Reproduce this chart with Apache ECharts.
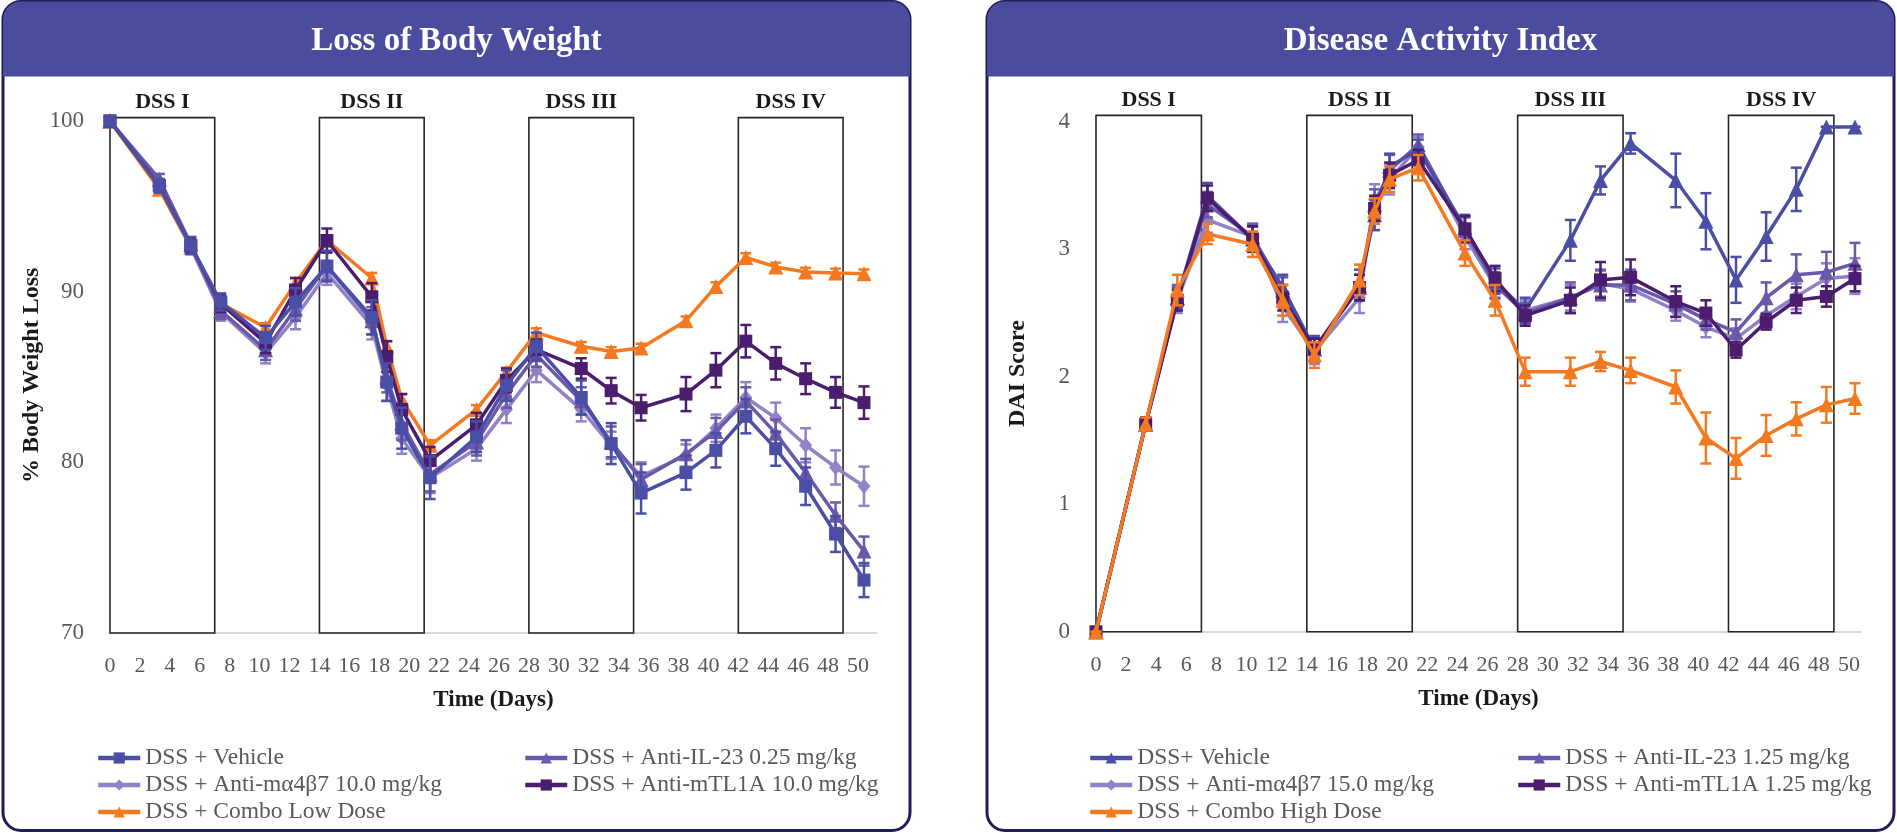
<!DOCTYPE html>
<html>
<head>
<meta charset="utf-8">
<title>Loss of Body Weight / Disease Activity Index</title>
<script src="https://cdn.jsdelivr.net/npm/echarts@6/dist/echarts.min.js"></script>
<style>
  html, body { margin: 0; padding: 0; background: #fff; }
  #chart { width: 1897px; height: 833px; }
</style>
</head>
<body>
<div id="chart"></div>
<script>
// 取样日 (days)
var days = [0, 3.3, 5.4, 7.4, 10.4, 12.4, 14.5, 17.5, 18.5, 19.5, 21.4, 24.5,
            26.5, 28.5, 31.5, 33.5, 35.5, 38.5, 40.5, 42.5, 44.5, 46.5, 48.5, 50.4];
var xTicks = [0, 2, 4, 6, 8, 10, 12, 14, 16, 18, 20, 22, 24, 26, 28, 30, 32, 34, 36, 38, 40, 42, 44, 46, 48, 50];
var dssNames = ['DSS I', 'DSS II', 'DSS III', 'DSS IV'];
var dssStart = [0, 14, 28, 42];
var dssEnd = [7, 21, 35, 49];

// Loss of Body Weight (%)
var bwNames = ['DSS + Vehicle', 'DSS + Anti-IL-23 0.25 mg/kg', 'DSS + Anti-mα4β7 10.0 mg/kg',
               'DSS + Anti-mTL1A 10.0 mg/kg', 'DSS + Combo Low Dose'];
var bwVehicle = [100, 96.2, 92.7, 89.4, 87.3, 89.4, 91.5, 88.5, 84.7, 82.0, 79.1, 81.5, 84.5, 86.8, 83.8, 81.1, 78.2, 79.4, 80.7, 82.7, 80.8, 78.6, 75.8, 73.1];
var bwIL23 = [100, 96.6, 92.8, 88.9, 86.6, 89.0, 91.5, 88.3, 85.0, 82.3, 79.3, 81.2, 84.0, 86.3, 83.6, 81.2, 79.0, 80.5, 81.8, 83.6, 81.7, 79.4, 76.9, 74.8];
var bwA4b7 = [100, 96.3, 92.6, 88.8, 86.4, 88.5, 91.1, 88.0, 84.5, 81.4, 79.1, 80.8, 83.1, 85.4, 83.1, 81.0, 79.2, 80.4, 82.0, 83.8, 82.6, 81.0, 79.7, 78.6];
var bwTL1A = [100, 96.2, 92.7, 89.3, 87.0, 90.1, 93.0, 89.7, 86.2, 83.1, 80.1, 82.2, 84.8, 86.6, 85.5, 84.2, 83.2, 84.0, 85.4, 87.1, 85.8, 84.9, 84.1, 83.5];
var bwCombo = [100, 96.0, 92.6, 89.3, 87.9, 90.5, 93.0, 90.8, 86.8, 83.7, 81.0, 83.1, 85.3, 87.6, 86.8, 86.5, 86.7, 88.3, 90.3, 92.0, 91.45, 91.15, 91.1, 91.05];
// 误差 (SEM)
var bwVehicleErr = [0.2, 0.4, 0.5, 0.5, 0.7, 0.8, 0.9, 1.0, 1.1, 1.2, 1.25, 0.9, 0.9, 0.8, 1.0, 1.2, 1.2, 1.0, 1.0, 1.0, 1.0, 1.1, 1.05, 1.0];
var bwIL23Err = [0.2, 0.3, 0.4, 0.5, 0.6, 0.7, 0.8, 0.8, 0.9, 1.0, 1.0, 0.8, 0.8, 0.7, 0.8, 0.9, 0.9, 0.8, 0.8, 0.8, 0.8, 0.8, 0.75, 0.85];
var bwA4b7Err = [0.2, 0.3, 0.4, 0.5, 0.6, 0.7, 0.7, 0.8, 0.9, 0.9, 0.9, 0.7, 0.8, 0.7, 0.7, 0.8, 0.8, 0.65, 0.8, 0.9, 0.9, 1.0, 1.0, 1.15];
var bwTL1AErr = [0.2, 0.3, 0.4, 0.5, 0.6, 0.7, 0.7, 0.8, 0.9, 0.9, 0.8, 0.7, 0.7, 0.6, 0.6, 0.75, 0.75, 1.0, 1.0, 0.95, 0.95, 0.9, 0.9, 0.95];
var bwComboErr = [0.1, 0.2, 0.2, 0.2, 0.25, 0.3, 0.3, 0.3, 0.3, 0.3, 0.3, 0.25, 0.25, 0.25, 0.25, 0.25, 0.25, 0.25, 0.25, 0.25, 0.25, 0.25, 0.25, 0.25];
var bwTicks = [70, 80, 90, 100];

// Disease Activity Index
var daiNames = ['DSS+ Vehicle', 'DSS + Anti-IL-23 1.25 mg/kg', 'DSS + Anti-mα4β7 15.0 mg/kg',
                'DSS + Anti-mTL1A 1.25 mg/kg', 'DSS + Combo High Dose'];
var daiVehicle = [0, 1.63, 2.62, 3.42, 3.08, 2.70, 2.22, 2.72, 3.27, 3.65, 3.78, 3.17, 2.75, 2.52, 3.07, 3.54, 3.83, 3.54, 3.22, 2.76, 3.10, 3.47, 3.96, 3.96];
var daiIL23 = [0, 1.63, 2.62, 3.35, 3.10, 2.68, 2.22, 2.70, 3.35, 3.62, 3.82, 3.15, 2.72, 2.50, 2.62, 2.72, 2.72, 2.57, 2.45, 2.35, 2.62, 2.80, 2.82, 2.89];
var daiA4b7 = [0, 1.63, 2.60, 3.23, 3.10, 2.55, 2.20, 2.62, 3.39, 3.55, 3.80, 3.10, 2.71, 2.52, 2.62, 2.73, 2.69, 2.52, 2.39, 2.30, 2.48, 2.63, 2.77, 2.79];
var daiTL1A = [0, 1.63, 2.60, 3.40, 3.08, 2.62, 2.22, 2.70, 3.32, 3.58, 3.70, 3.16, 2.77, 2.48, 2.60, 2.76, 2.78, 2.59, 2.50, 2.21, 2.43, 2.60, 2.63, 2.77];
var daiCombo = [0, 1.63, 2.68, 3.12, 3.04, 2.60, 2.17, 2.76, 3.30, 3.55, 3.64, 2.97, 2.60, 2.04, 2.04, 2.12, 2.05, 1.92, 1.52, 1.36, 1.54, 1.67, 1.78, 1.83];
var daiVehicleErr = [0, 0.05, 0.08, 0.1, 0.1, 0.1, 0.1, 0.12, 0.12, 0.1, 0.08, 0.1, 0.1, 0.1, 0.16, 0.11, 0.08, 0.21, 0.22, 0.18, 0.19, 0.17, 0, 0];
var daiIL23Err = [0, 0.05, 0.1, 0.1, 0.1, 0.1, 0.08, 0.1, 0.12, 0.12, 0.08, 0.1, 0.1, 0.08, 0.12, 0.12, 0.12, 0.1, 0.08, 0.1, 0.12, 0.16, 0.16, 0.16];
var daiA4b7Err = [0, 0.05, 0.1, 0.1, 0.1, 0.12, 0.1, 0.12, 0.12, 0.12, 0.08, 0.1, 0.1, 0.08, 0.1, 0.1, 0.1, 0.08, 0.08, 0.08, 0.1, 0.1, 0.12, 0.14];
var daiTL1AErr = [0, 0.05, 0.08, 0.1, 0.1, 0.1, 0.08, 0.1, 0.1, 0.1, 0.08, 0.1, 0.1, 0.08, 0.1, 0.14, 0.14, 0.12, 0.1, 0.06, 0.06, 0.1, 0.08, 0.1];
var daiComboErr = [0, 0.05, 0.12, 0.08, 0.1, 0.12, 0.1, 0.12, 0.1, 0.1, 0.1, 0.1, 0.12, 0.11, 0.11, 0.075, 0.1, 0.13, 0.2, 0.16, 0.16, 0.13, 0.14, 0.12];
var daiTicks = [0, 1, 2, 3, 4];

var FONT = "'Liberation Serif', 'Times New Roman', serif";
var colors = ['#4a4fa5', '#6a58aa', '#9181c6', '#4b1d6e', '#f47920'];
var bwSymbols = ['rect', 'triangle', 'diamond', 'rect', 'triangle'];
var daiSymbols = ['triangle', 'triangle', 'diamond', 'rect', 'triangle'];
var symbolSizes = { rect: 13, triangle: 15, diamond: [13, 15] };

var chart = echarts.init(document.getElementById('chart'));

function lineSeries(name, values, idx, symbol, axisIdx, z) {
    return {
        name: name,
        type: 'line',
        xAxisIndex: axisIdx,
        yAxisIndex: axisIdx,
        data: days.map(function (d, i) { return [d, values[i]]; }),
        symbol: symbol,
        symbolSize: symbolSizes[symbol],
        showSymbol: true,
        z: z,
        itemStyle: { color: colors[idx] },
        lineStyle: { color: colors[idx], width: 3.5 },
        emphasis: { disabled: true }
    };
}

// 误差线
function errSeries(name, values, errs, idx, axisIdx, z) {
    return {
        name: name + ' err',
        type: 'custom',
        xAxisIndex: axisIdx,
        yAxisIndex: axisIdx,
        z: z,
        silent: true,
        data: days.map(function (d, i) { return [d, values[i] - errs[i], values[i] + errs[i]]; }),
        encode: { x: 0, y: [1, 2] },
        renderItem: function (params, api) {
            var x = api.value(0);
            var top = api.coord([x, api.value(2)]);
            var bot = api.coord([x, api.value(1)]);
            var w = 5.5;
            var st = { stroke: colors[idx], lineWidth: 2.5 };
            return {
                type: 'group',
                children: [
                    { type: 'line', shape: { x1: top[0], y1: top[1], x2: bot[0], y2: bot[1] }, style: st },
                    { type: 'line', shape: { x1: top[0] - w, y1: top[1], x2: top[0] + w, y2: top[1] }, style: st },
                    { type: 'line', shape: { x1: bot[0] - w, y1: bot[1], x2: bot[0] + w, y2: bot[1] }, style: st }
                ]
            };
        }
    };
}

// DSS 方框
function boxSeries(axisIdx, yLow, yHigh) {
    return {
        type: 'line',
        xAxisIndex: axisIdx,
        yAxisIndex: axisIdx,
        data: [],
        silent: true,
        z: 1,
        markArea: {
            silent: true,
            itemStyle: { color: 'rgba(0,0,0,0)', borderColor: '#262626', borderWidth: 1.6 },
            label: {
                show: true,
                position: 'top',
                distance: 3,
                color: '#1a1a1a',
                fontFamily: FONT,
                fontWeight: 'bold',
                fontSize: 22
            },
            data: dssNames.map(function (n, i) {
                return [{ name: n, xAxis: dssStart[i], yAxis: yLow }, { xAxis: dssEnd[i], yAxis: yHigh }];
            })
        }
    };
}

function xAxisCfg(gridIdx, max) {
    return {
        type: 'value',
        gridIndex: gridIdx,
        min: 0,
        max: max,
        interval: 2,
        name: 'Time (Days)',
        nameLocation: 'middle',
        nameGap: 56,
        nameTextStyle: { color: '#1a1a1a', fontFamily: FONT, fontWeight: 'bold', fontSize: 23 },
        axisLine: { show: true, lineStyle: { color: '#d9d9d9', width: 2 } },
        axisTick: { show: false },
        splitLine: { show: false },
        axisLabel: {
            color: '#595959', fontFamily: FONT, fontSize: 22, margin: 22,
            formatter: function (v) { return xTicks.indexOf(v) >= 0 ? String(v) : ''; }
        }
    };
}

function yAxisCfg(gridIdx, name, min, max, interval, ticks, gap) {
    return {
        type: 'value',
        gridIndex: gridIdx,
        min: min,
        max: max,
        interval: interval,
        name: name,
        nameLocation: 'middle',
        nameRotate: 90,
        nameGap: gap,
        nameTextStyle: { color: '#1a1a1a', fontFamily: FONT, fontWeight: 'bold', fontSize: 24 },
        axisLine: { show: false },
        axisTick: { show: false },
        splitLine: { show: false },
        axisLabel: {
            color: '#595959', fontFamily: FONT, fontSize: 23, margin: 26,
            formatter: function (v) { return ticks.indexOf(v) >= 0 ? String(v) : ''; }
        }
    };
}

function legendCfg(left, names) {
    return {
        left: left,
        top: 741,
        orient: 'vertical',
        itemGap: 3,
        itemWidth: 42,
        itemHeight: 14,
        selectedMode: false,
        lineStyle: { width: 4.5 },
        textStyle: { color: '#595959', fontFamily: FONT, fontSize: 23.5 },
        data: names
    };
}

function panel(x, title) {
    return [
        {
            type: 'rect', z: -10, silent: true,
            shape: { x: x, y: 1.5, width: 907, height: 829, r: 18 },
            style: { fill: '#ffffff', stroke: '#1f1c5c', lineWidth: 3 }
        },
        {
            type: 'rect', z: -9, silent: true,
            shape: { x: x, y: 1.5, width: 907, height: 75, r: [18, 18, 0, 0] },
            style: { fill: '#4b4c9d' }
        },
        {
            type: 'text', z: -8, silent: true,
            x: x + 453.5, y: 41,
            style: {
                text: title, fill: '#ffffff', align: 'center', verticalAlign: 'middle',
                font: 'bold 33px ' + FONT
            }
        }
    ];
}

var bwValues = [bwVehicle, bwIL23, bwA4b7, bwTL1A, bwCombo];
var bwErrs = [bwVehicleErr, bwIL23Err, bwA4b7Err, bwTL1AErr, bwComboErr];
var daiValues = [daiVehicle, daiIL23, daiA4b7, daiTL1A, daiCombo];
var daiErrs = [daiVehicleErr, daiIL23Err, daiA4b7Err, daiTL1AErr, daiComboErr];
var bwZ = [9, 6, 5, 7, 4];
var daiZ = [6, 5, 4, 7, 9];

var series = [boxSeries(0, 70, 100.2), boxSeries(1, 0, 4.05)];
for (var i = 0; i < 5; i++) {
    series.push(errSeries(bwNames[i], bwValues[i], bwErrs[i], i, 0, bwZ[i]));
    series.push(lineSeries(bwNames[i], bwValues[i], i, bwSymbols[i], 0, bwZ[i]));
    series.push(errSeries(daiNames[i], daiValues[i], daiErrs[i], i, 1, daiZ[i]));
    series.push(lineSeries(daiNames[i], daiValues[i], i, daiSymbols[i], 1, daiZ[i]));
}

var option = {
    animation: false,
    backgroundColor: '#ffffff',
    graphic: panel(3, 'Loss of Body Weight').concat(panel(987, 'Disease Activity Index')),
    grid: [
        { left: 110, top: 117.6, width: 767, height: 515.4 },
        { left: 1096, top: 115.4, width: 765, height: 516.4 }
    ],
    xAxis: [xAxisCfg(0, 51.27), xAxisCfg(1, 50.8)],
    yAxis: [
        yAxisCfg(0, '% Body Weight Loss', 70, 100.2, 10, bwTicks, 66),
        yAxisCfg(1, 'DAI Score', 0, 4.05, 1, daiTicks, 66)
    ],
    legend: [
        legendCfg(91, [bwNames[0], bwNames[2], bwNames[4]]),
        legendCfg(518, [bwNames[1], bwNames[3]]),
        legendCfg(1083, [daiNames[0], daiNames[2], daiNames[4]]),
        legendCfg(1511, [daiNames[1], daiNames[3]])
    ],
    series: series
};

chart.setOption(option);
</script>
</body>
</html>
